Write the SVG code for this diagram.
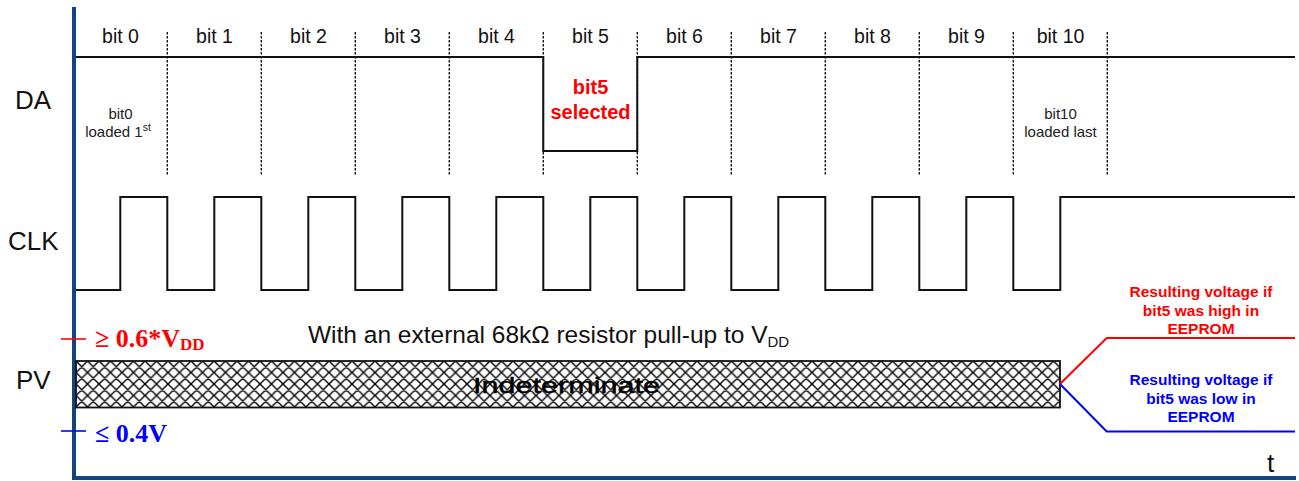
<svg xmlns="http://www.w3.org/2000/svg" width="1299" height="481" viewBox="0 0 1299 481">
<style>
.lbl{font-family:"Liberation Sans",Arial,sans-serif;font-size:26px;fill:#111}
.bit{font-family:"Liberation Sans",Arial,sans-serif;font-size:19.5px;fill:#111;text-anchor:middle}
.note{font-family:"Liberation Sans",Arial,sans-serif;font-size:15px;fill:#222;text-anchor:middle}
.sel{font-family:"Liberation Sans",Arial,sans-serif;font-size:20px;font-weight:bold;fill:#ff0000;text-anchor:middle}
.res{font-family:"Liberation Sans",Arial,sans-serif;font-size:15.5px;font-weight:bold;text-anchor:middle}
.lvl{font-family:"Liberation Serif","Times New Roman",serif;font-size:26px;font-weight:bold}
.wave{fill:none;stroke:#111;stroke-width:2}
.div{stroke:#111;stroke-width:1.4;stroke-dasharray:2.5 1.5}
.axis{stroke:#12457f;stroke-width:4;fill:none}
</style>
<defs>
<pattern id="hatch" patternUnits="userSpaceOnUse" width="11.5" height="11.5" x="76" y="361">
<path d="M0,0 L11.5,11.5 M11.5,0 L0,11.5 M-1,10.5 L1,12.5 M10.5,-1 L12.5,1 M-1,1 L1,-1 M10.5,12.5 L12.5,10.5" stroke="#000" stroke-width="1.4" fill="none"/>
</pattern>
</defs>

<g id="axes">
<path class="axis" d="M74,7 V478 H1296"/>
<text class="lbl" x="1267" y="472">t</text>
</g>

<g id="bit-dividers">
<line class="div" x1="167.3" y1="32" x2="167.3" y2="175"/>
<line class="div" x1="261.3" y1="32" x2="261.3" y2="175"/>
<line class="div" x1="355.3" y1="32" x2="355.3" y2="175"/>
<line class="div" x1="449.3" y1="32" x2="449.3" y2="175"/>
<line class="div" x1="543.3" y1="32" x2="543.3" y2="175"/>
<line class="div" x1="637.3" y1="32" x2="637.3" y2="175"/>
<line class="div" x1="731.3" y1="32" x2="731.3" y2="175"/>
<line class="div" x1="825.3" y1="32" x2="825.3" y2="175"/>
<line class="div" x1="919.3" y1="32" x2="919.3" y2="175"/>
<line class="div" x1="1013.3" y1="32" x2="1013.3" y2="175"/>
<line class="div" x1="1107.3" y1="32" x2="1107.3" y2="175"/>
</g>

<g id="bit-labels">
<text class="bit" x="120.5" y="43">bit 0</text>
<text class="bit" x="214.5" y="43">bit 1</text>
<text class="bit" x="308.5" y="43">bit 2</text>
<text class="bit" x="402.5" y="43">bit 3</text>
<text class="bit" x="496.5" y="43">bit 4</text>
<text class="bit" x="590.5" y="43">bit 5</text>
<text class="bit" x="684.5" y="43">bit 6</text>
<text class="bit" x="778.5" y="43">bit 7</text>
<text class="bit" x="872.5" y="43">bit 8</text>
<text class="bit" x="966.5" y="43">bit 9</text>
<text class="bit" x="1060.5" y="43">bit 10</text>
</g>

<g id="DA">
<text class="lbl" x="15" y="109">DA</text>
<path class="wave" d="M76,57 H543.3 V151 H637.3 V57 H1295"/>
<text class="note" x="120.5" y="119">bit0</text>
<text class="note" x="118" y="137">loaded 1<tspan style="font-size:10.5px" dy="-6">st</tspan></text>
<text class="sel" x="590.5" y="94">bit5</text>
<text class="sel" x="590.5" y="119">selected</text>
<text class="note" x="1060.5" y="119">bit10</text>
<text class="note" x="1060.5" y="137">loaded last</text>
</g>

<g id="CLK">
<text class="lbl" x="8" y="250">CLK</text>
<path class="wave" d="M76,290 H120.3 V197 H167.3 V290 H214.3 V197 H261.3 V290 H308.3 V197 H355.3 V290 H402.3 V197 H449.3 V290 H496.3 V197 H543.3 V290 H590.3 V197 H637.3 V290 H684.3 V197 H731.3 V290 H778.3 V197 H825.3 V290 H872.3 V197 H919.3 V290 H966.3 V197 H1013.3 V290 H1060.3 V197 H1295"/>
</g>

<g id="PV">
<text class="lbl" x="16" y="389">PV</text>
<line x1="61" y1="339" x2="86" y2="339" stroke="#ff0000" stroke-width="1.6"/>
<line x1="61" y1="431" x2="86" y2="431" stroke="#0000ff" stroke-width="1.6"/>
<text class="lvl" x="95" y="347" fill="#ff0000">≥ 0.6*V<tspan style="font-size:17px" dy="3">DD</tspan></text>
<text class="lvl" x="95" y="442" fill="#0000ff">≤ 0.4V</text>
<text class="lbl" x="308" y="343" style="font-size:24.5px">With an external 68kΩ resistor pull-up to V<tspan style="font-size:15px" dy="4">DD</tspan></text>
<rect x="76" y="361" width="984" height="46.5" fill="url(#hatch)" stroke="#111" stroke-width="1.8"/>
<text class="lbl" x="473" y="392.5" style="font-size:22px;fill:#000;stroke:#000;stroke-width:0.4" textLength="187" lengthAdjust="spacingAndGlyphs">Indeterminate</text>
</g>

<g id="connectors">
<path d="M1060,384 L1106.7,338 H1295" fill="none" stroke="#ff0000" stroke-width="2"/>
<path d="M1060,384 L1106.7,431.5 H1295" fill="none" stroke="#0000ff" stroke-width="2"/>
</g>

<g id="result-high">
<text class="res" x="1201" y="297" fill="#ff0000">Resulting voltage if</text>
<text class="res" x="1201" y="316" fill="#ff0000">bit5 was high in</text>
<text class="res" x="1201" y="334" fill="#ff0000">EEPROM</text>
</g>
<g id="result-low">
<text class="res" x="1201" y="385" fill="#0000ff">Resulting voltage if</text>
<text class="res" x="1201" y="403.5" fill="#0000ff">bit5 was low in</text>
<text class="res" x="1201" y="422" fill="#0000ff">EEPROM</text>
</g>
</svg>
